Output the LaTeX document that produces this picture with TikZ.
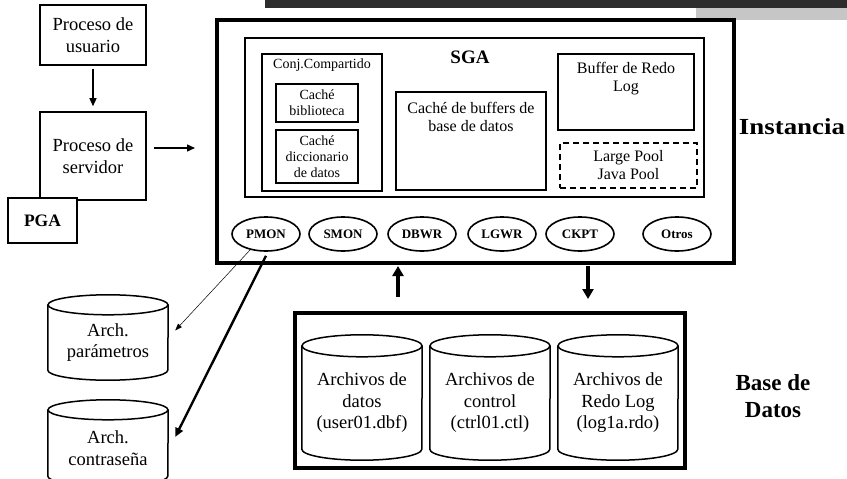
\documentclass[tikz,border=0pt]{standalone}
\usepackage{fontspec}
\setmainfont{Liberation Serif}
\usepackage{graphicx}
\usetikzlibrary{shapes.geometric,arrows.meta}
\definecolor{bardark}{HTML}{2D2D2D}
\definecolor{barlight}{HTML}{C6C6C6}
\newcommand{\cylout}[2]{% node name, y radius
  \draw[line width=1.5pt,line join=round] (#1.north west) -- ([yshift=#2]#1.south west)
    arc[start angle=180,end angle=360,x radius=60pt,y radius=#2] -- (#1.north east);
  \draw[line width=1.5pt] (#1.north) ellipse[x radius=60pt,y radius=#2];}
\begin{document}
\begin{tikzpicture}[x=1pt,y=-1pt,
  box/.style={draw,line width=1.6pt,inner sep=0pt,align=center},
  bigbox/.style={draw,line width=4pt,inner sep=0pt},
  bigtxt/.style={font=\fontsize{18.5}{21.5}\selectfont,align=center},
  midtxt/.style={font=\fontsize{16}{18}\selectfont,align=center},
  smalltxt/.style={font=\fontsize{14}{16}\selectfont,align=center},
  proc/.style={draw,ellipse,line width=1.6pt,minimum width=68pt,minimum height=34pt,inner sep=0pt,font=\fontsize{13}{15}\selectfont\bfseries},
  cylbody/.style={minimum width=120pt,inner sep=0pt,bigtxt},
  arr/.style={line width=1.4pt,-{Triangle[length=8pt,width=7pt]}},
  thinarr/.style={line width=0.5pt,-{Triangle[length=7pt,width=5pt]}},
  medarr/.style={line width=2.4pt,-{Triangle[length=9pt,width=8pt]}},
  bigarr/.style={line width=3.6pt,-{Triangle[length=10pt,width=11pt]}},
]
\useasboundingbox (0,0) rectangle (847,479);
% top bars
\fill[bardark] (265,0) rectangle (847,8);
\fill[barlight] (696,8) rectangle (847,20);

% left processes
\node[box,bigtxt,minimum width=106pt,minimum height=60pt] (user) at (93,35) {Proceso de\\usuario};
\node[box,bigtxt,minimum width=106pt,minimum height=88pt] (server) at (93,156) {Proceso de\\servidor};
\node[box,fill=white,minimum width=69pt,minimum height=45pt,font=\fontsize{17.5}{20}\selectfont\bfseries] (pga) at (42.5,220.5) {PGA};

% instance
\node[bigbox,minimum width=517pt,minimum height=243pt] (inst) at (475.5,141.5) {};
\node[box,minimum width=459pt,minimum height=159pt] (sga) at (474.5,117.5) {};
\node[font=\fontsize{19}{21}\selectfont\bfseries] (sgalbl) at (470,57) {SGA};
\node[box,minimum width=120pt,minimum height=137pt] (conj) at (322,122.5) {};
\node[smalltxt] (conjlbl) at (322,65) {Conj.Compartido};
\node[box,smalltxt,minimum width=82pt,minimum height=38pt] (bibl) at (317,103) {Caché\\biblioteca};
\node[box,smalltxt,minimum width=82pt,minimum height=53pt] (dicc) at (317,156.5) {Caché\\diccionario\\de datos};
\node[box,minimum width=150pt,minimum height=98pt] (buff) at (471,141) {};
\node[midtxt] (bufflbl) at (471,117) {Caché de buffers de\\base de datos};
\node[box,minimum width=136pt,minimum height=76pt] (redo) at (626,92) {};
\node[midtxt] (redolbl) at (626,79) {Buffer de Redo\\Log};
\node[box,dash pattern=on 6pt off 4pt,midtxt,minimum width=137pt,minimum height=45pt] (pool) at (628.5,165.5) {Large Pool\\Java Pool};

\node[proc] (pmon) at (266,234) {PMON};
\node[proc] (smon) at (343,234) {SMON};
\node[proc] (dbwr) at (422,234) {DBWR};
\node[proc] (lgwr) at (502,234) {LGWR};
\node[proc] (ckpt) at (580,234) {CKPT};
\node[proc] (otros) at (677,234) {Otros};

\node[font=\fontsize{23}{27}\selectfont\bfseries] (instlbl) at (792,127) {\scalebox{1.17}[1]{Instancia}};

% database
\node[bigbox,minimum width=390pt,minimum height=155pt] (base) at (490,390.5) {};
\node[cylbody,minimum height=114pt] (datos) at (362,403) {Archivos de\\datos\\(user01.dbf)};
\node[cylbody,minimum height=114pt] (ctrl) at (490,403) {Archivos de\\control\\(ctrl01.ctl)};
\node[cylbody,minimum height=114pt] (redolog) at (618,403) {Archivos de\\Redo Log\\(log1a.rdo)};
\cylout{datos}{11pt}
\cylout{ctrl}{11pt}
\cylout{redolog}{11pt}
\node[font=\fontsize{23}{27}\selectfont\bfseries,align=center] (baselbl) at (773,396) {Base de\\Datos};

% left files
\node[cylbody,minimum height=75pt] (param) at (108,342.5) {Arch.\\parámetros};
\node[cylbody,minimum height=76pt] (contra) at (108,448) {Arch.\\contraseña};
\cylout{param}{10pt}
\cylout{contra}{10pt}

% connectors
\coordinate (s2i) at (195,148);
\coordinate (upx) at (398,0);
\coordinate (dnx) at (588,0);
\draw[arr] ([yshift=-3pt]user.south) -- ([yshift=5pt]server.north);
\draw[arr] ([shift={(7pt,8pt)}]server.east) -- (s2i);
\draw[thinarr] (pmon.225) -- ([shift={(7pt,12pt)}]param.east);
\draw[medarr] ([yshift=-4pt]pmon.south) -- ([shift={(7pt,11pt)}]contra.east);
\draw[bigarr] ([yshift=14pt]base.north -| upx) -- ([yshift=-1pt]inst.south -| upx);
\draw[bigarr] ([yshift=-1pt]inst.south -| dnx) -- ([yshift=12pt]base.north -| dnx);
\end{tikzpicture}
\end{document}
